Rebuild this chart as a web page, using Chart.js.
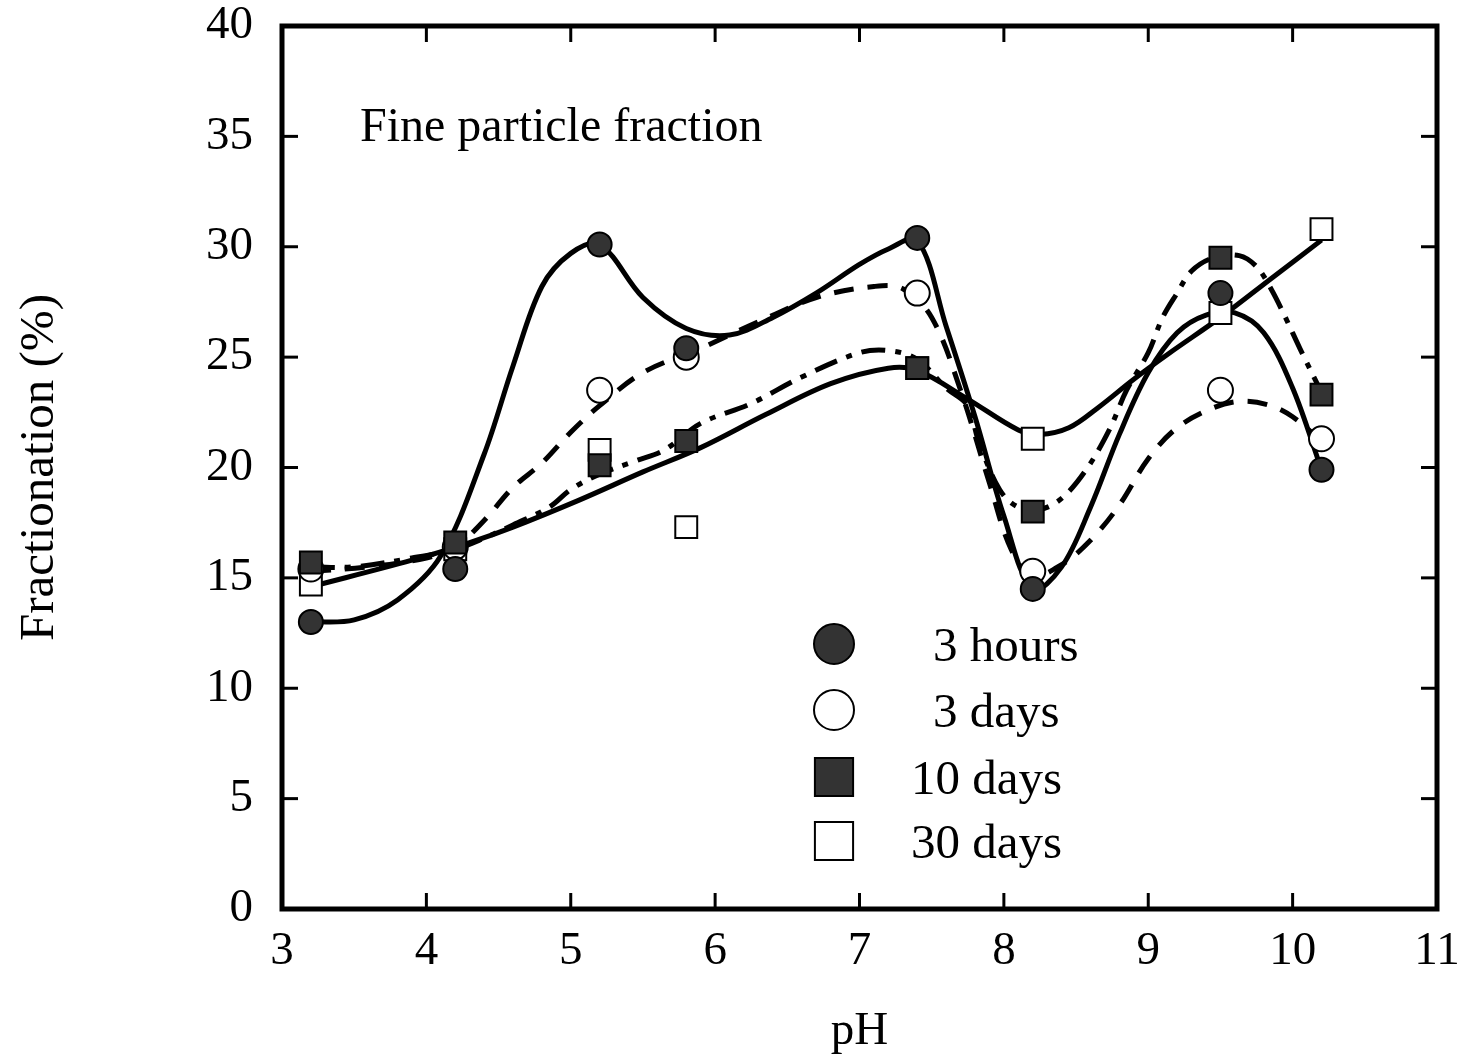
<!DOCTYPE html>
<html><head><meta charset="utf-8">
<script src="https://cdn.jsdelivr.net/npm/chart.js@4.4.1/dist/chart.umd.min.js"></script>
<style>html,body{margin:0;padding:0;background:#fff;}#wrap{width:1465px;height:1062px;}</style>
</head><body><div id="wrap"><canvas id="c" width="1465" height="1062"></canvas></div>
<script>
// ---- measured data points ----
const pH = [3.2, 4.2, 5.2, 5.8, 7.4, 8.2, 9.5, 10.2];
const hours3 = [13.0, 15.4, 30.1, 25.4, 30.4, 14.5, 27.9, 19.9];
const days3  = [15.4, 16.4, 23.5, 25.0, 27.9, 15.3, 23.5, 21.3];
const days10 = [15.7, 16.6, 20.1, 21.2, 24.5, 18.0, 29.5, 23.3];
const days30 = [14.7, 16.3, 20.8, 17.3, 24.5, 21.3, 27.0, 30.8];
const seriesNames = ['3 hours', '3 days', '10 days', '30 days'];

// ---- fitted curves ----
const curveH3x = [3.2,3.5,3.8,4.1,4.4,4.6,4.8,5.0,5.2,5.5,5.8,6.1,6.4,6.7,7.0,7.2,7.4,7.6,7.8,8.0,8.2,8.4,8.6,8.8,9.0,9.2,9.4,9.6,9.8,10.0,10.2];
const curveH3y = [13.0,13.1,14.0,16.0,20.6,24.6,28.2,29.7,30.1,27.7,26.3,26.0,26.8,27.9,29.2,29.9,30.3,26.4,22.3,17.8,14.5,15.5,18.2,21.5,24.3,26.1,26.9,27.0,26.1,23.6,19.9];
const curveD3x = [3.2,3.6,4.0,4.2,4.4,4.6,4.8,5.0,5.2,5.5,5.9,6.3,6.7,7.1,7.3,7.5,7.7,7.9,8.05,8.2,8.4,8.6,8.8,9.0,9.2,9.45,9.65,9.85,10.0,10.2];
const curveD3y = [15.3,15.5,15.9,16.4,17.6,19.1,20.2,21.6,22.8,24.3,25.4,26.6,27.7,28.2,28.1,26.8,23.5,19.3,16.3,15.1,15.6,16.7,18.3,20.4,21.8,22.7,23.0,22.8,22.3,21.2];
const curveD10x = [3.2,3.5,3.9,4.2,4.4,4.6,4.85,5.0,5.2,5.45,5.65,5.9,6.25,6.6,7.0,7.2,7.4,7.6,7.75,7.82,7.97,8.1,8.25,8.4,8.57,8.73,8.85,9.0,9.1,9.2,9.3,9.45,9.63,9.75,9.85,9.95,10.05,10.2];
const curveD10y = [15.5,15.5,15.9,16.3,16.8,17.4,18.2,19.0,19.7,20.3,20.8,22.0,22.9,24.1,25.2,25.3,24.9,23.6,22.8,21.3,19.0,18.2,18.1,18.6,19.9,21.7,23.5,25.2,26.8,27.9,28.9,29.5,29.6,29.1,28.1,26.8,25.4,23.4];
const curveD30x = [3.2,3.9,4.3,4.6,5.05,5.5,5.9,6.35,6.8,7.2,7.4,7.75,8.1,8.25,8.45,8.65,8.9,9.15,9.5,9.85,10.2];
const curveD30y = [14.6,15.8,16.6,17.3,18.5,19.8,20.9,22.4,23.8,24.5,24.4,23.1,21.7,21.5,21.8,22.7,24.0,25.2,26.8,28.55,30.3];

const xTicks = [3,4,5,6,7,8,9,10,11];
const yTicks = [0,5,10,15,20,25,30,35,40];

const FONT = "'Liberation Serif', 'Times New Roman', serif";
const pts = (xs, ys) => xs.map((x, i) => ({x: x, y: ys[i]}));

const markerStyles = [
  {shape:'circle', fill:'#333333', r:12, legendR:20, order:0},
  {shape:'circle', fill:'#ffffff', r:12.5, legendR:20, order:2},
  {shape:'rect', fill:'#333333', r:15.5, legendR:27, order:1},
  {shape:'rect', fill:'#ffffff', r:15.5, legendR:27, order:3}
];
const seriesVals = [hours3, days3, days10, days30];

const curveDS = (xs, ys, dash) => ({
  type:'line', data: pts(xs, ys), borderColor:'#000', borderWidth:5,
  borderDash: dash, pointRadius:0, fill:false, tension:0.35,
  order: 10, borderCapStyle:'butt'
});

const datasets = [
  curveDS(curveH3x, curveH3y, []),
  curveDS(curveD3x, curveD3y, [20, 14]),
  curveDS(curveD10x, curveD10y, [24, 10, 6, 10]),
  curveDS(curveD30x, curveD30y, [])
];
seriesVals.forEach((vals, i) => {
  const m = markerStyles[i];
  datasets.push({
    type:'scatter', label: seriesNames[i], data: pts(pH, vals), showLine:false,
    pointStyle: m.shape, pointRadius: m.r, backgroundColor: m.fill,
    borderColor:'#000', borderWidth: 2, order: m.order
  });
});

const framePlugin = {
  id:'frame',
  afterDatasetsDraw(chart) {
    const {ctx, chartArea:a, scales:{x, y}} = chart;
    ctx.save();
    ctx.strokeStyle = '#000';
    ctx.lineWidth = 3;
    xTicks.forEach(v => {
      const px = x.getPixelForValue(v);
      ctx.beginPath(); ctx.moveTo(px, a.bottom); ctx.lineTo(px, a.bottom - 16); ctx.stroke();
      ctx.beginPath(); ctx.moveTo(px, a.top); ctx.lineTo(px, a.top + 16); ctx.stroke();
    });
    yTicks.forEach(v => {
      const py = y.getPixelForValue(v);
      ctx.beginPath(); ctx.moveTo(a.left, py); ctx.lineTo(a.left + 16, py); ctx.stroke();
      ctx.beginPath(); ctx.moveTo(a.right, py); ctx.lineTo(a.right - 16, py); ctx.stroke();
    });
    ctx.lineWidth = 5;
    ctx.strokeRect(a.left, a.top, a.right - a.left, a.bottom - a.top);
    ctx.restore();
  },
  afterDraw(chart) {
    const {ctx} = chart;
    ctx.save();
    ctx.fillStyle = '#000';
    ctx.font = "48px " + FONT;
    ctx.textBaseline = 'alphabetic';
    ctx.textAlign = 'left';
    ctx.fillText('Fine particle fraction', 360, 141);
    // legend
    ctx.font = "49px " + FONT;
    const lx = 834, ly = [644, 710, 777, 841], tx = 911;
    const digitW = ctx.measureText('0').width;
    seriesNames.forEach((name, i) => {
      const m = markerStyles[i];
      ctx.beginPath();
      if (m.shape === 'circle') {
        ctx.arc(lx, ly[i], m.legendR, 0, Math.PI * 2);
      } else {
        const s = m.legendR * Math.SQRT1_2;
        ctx.rect(lx - s, ly[i] - s, 2 * s, 2 * s);
      }
      ctx.fillStyle = m.fill; ctx.fill();
      ctx.lineWidth = 2; ctx.strokeStyle = '#000'; ctx.stroke();
      ctx.fillStyle = '#000';
      ctx.textBaseline = 'middle';
      const lead = name.split(' ')[0].length === 1 ? digitW * 0.9 : 0;
      ctx.fillText(name, tx + lead, ly[i] + 4);
    });
    ctx.restore();
  }
};

new Chart(document.getElementById('c'), {
  type:'scatter',
  data:{datasets},
  options:{
    responsive:false, animation:false, devicePixelRatio:1,
    layout:{padding:{top:26, right:28, bottom:0, left:0}},
    plugins:{legend:{display:false}, tooltip:{enabled:false}},
    scales:{
      x:{type:'linear', min:3, max:11,
        afterFit(s){ s.height = 153; s.paddingLeft = 0; s.paddingRight = 0; },
        afterBuildTicks(s){ s.ticks = xTicks.map(v => ({value:v})); },
        grid:{display:false, drawTicks:false},
        border:{display:false},
        ticks:{color:'#000', padding:14, font:{family:FONT, size:47}},
        title:{display:true, text:'pH', color:'#000', font:{family:FONT, size:47}, padding:{top:0, bottom:2}}
      },
      y:{type:'linear', min:0, max:40,
        afterFit(s){ s.width = 282; s.paddingTop = 0; s.paddingBottom = 0; },
        afterBuildTicks(s){ s.ticks = yTicks.map(v => ({value:v})); },
        grid:{display:false, drawTicks:false},
        border:{display:false},
        ticks:{color:'#000', padding:29, font:{family:FONT, size:47}},
        title:{display:true, text:'Fractionation (%)', color:'#000', font:{family:FONT, size:49}, padding:{top:11, bottom:0}}
      }
    }
  },
  plugins:[framePlugin]
});
</script></body></html>
